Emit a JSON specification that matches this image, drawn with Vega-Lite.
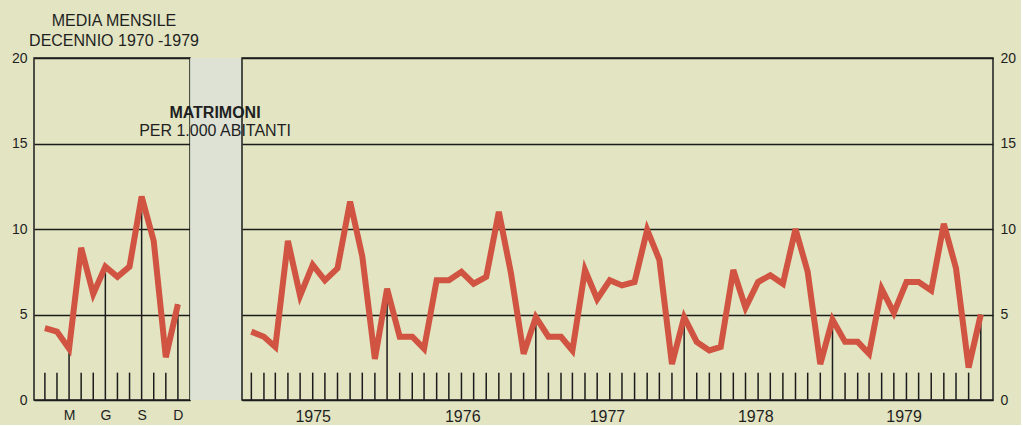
{
  "$schema": "https://vega.github.io/schema/vega-lite/v6.json",
  "background": "#e2e4c2",
  "padding": {"left": 10, "right": 4, "top": 13, "bottom": 0},
  "bounds": "flush",
  "spacing": 52,
  "title": {
    "text": ["MEDIA MENSILE", "DECENNIO 1970 -1979"],
    "anchor": "start",
    "align": "center",
    "frame": "group",
    "dx": 80,
    "offset": 1,
    "fontSize": 16,
    "fontWeight": "normal",
    "lineHeight": 20,
    "font": "Liberation Sans",
    "color": "#1f1f1f"
  },
  "config": {
    "font": "Liberation Sans",
    "view": {"stroke": "#1c1c1c", "strokeWidth": 1.5},
    "axisY": {
      "grid": true,
      "gridColor": "#1c1c1c",
      "gridWidth": 1.5,
      "gridOpacity": 1,
      "domain": false,
      "ticks": false,
      "labelFontSize": 14,
      "labelColor": "#1f1f1f",
      "labelPadding": 7,
      "title": null
    },
    "axisX": {
      "grid": false,
      "domain": false,
      "ticks": false,
      "labelColor": "#1f1f1f",
      "labelPadding": 8,
      "title": null
    }
  },
  "datasets": {
    "media": [
      {"mese": 1, "valore": 4.2},
      {"mese": 2, "valore": 4.0},
      {"mese": 3, "valore": 3.0},
      {"mese": 4, "valore": 8.9},
      {"mese": 5, "valore": 6.2},
      {"mese": 6, "valore": 7.8},
      {"mese": 7, "valore": 7.2},
      {"mese": 8, "valore": 7.8},
      {"mese": 9, "valore": 11.9},
      {"mese": 10, "valore": 9.3},
      {"mese": 11, "valore": 2.5},
      {"mese": 12, "valore": 5.6}
    ],
    "serie": [
      {"data": "1975/01/01", "valore": 4.0},
      {"data": "1975/02/01", "valore": 3.7},
      {"data": "1975/03/01", "valore": 3.1},
      {"data": "1975/04/01", "valore": 9.3},
      {"data": "1975/05/01", "valore": 6.1},
      {"data": "1975/06/01", "valore": 7.9},
      {"data": "1975/07/01", "valore": 7.0},
      {"data": "1975/08/01", "valore": 7.7},
      {"data": "1975/09/01", "valore": 11.6},
      {"data": "1975/10/01", "valore": 8.4},
      {"data": "1975/11/01", "valore": 2.4},
      {"data": "1975/12/01", "valore": 6.5},
      {"data": "1976/01/01", "valore": 3.7},
      {"data": "1976/02/01", "valore": 3.7},
      {"data": "1976/03/01", "valore": 3.0},
      {"data": "1976/04/01", "valore": 7.0},
      {"data": "1976/05/01", "valore": 7.0},
      {"data": "1976/06/01", "valore": 7.5},
      {"data": "1976/07/01", "valore": 6.8},
      {"data": "1976/08/01", "valore": 7.2},
      {"data": "1976/09/01", "valore": 11.0},
      {"data": "1976/10/01", "valore": 7.4},
      {"data": "1976/11/01", "valore": 2.7},
      {"data": "1976/12/01", "valore": 4.85},
      {"data": "1977/01/01", "valore": 3.7},
      {"data": "1977/02/01", "valore": 3.7},
      {"data": "1977/03/01", "valore": 2.9},
      {"data": "1977/04/01", "valore": 7.6},
      {"data": "1977/05/01", "valore": 5.9},
      {"data": "1977/06/01", "valore": 7.0},
      {"data": "1977/07/01", "valore": 6.7},
      {"data": "1977/08/01", "valore": 6.9},
      {"data": "1977/09/01", "valore": 9.95},
      {"data": "1977/10/01", "valore": 8.2},
      {"data": "1977/11/01", "valore": 2.1},
      {"data": "1977/12/01", "valore": 4.85},
      {"data": "1978/01/01", "valore": 3.4},
      {"data": "1978/02/01", "valore": 2.9},
      {"data": "1978/03/01", "valore": 3.1},
      {"data": "1978/04/01", "valore": 7.6},
      {"data": "1978/05/01", "valore": 5.4},
      {"data": "1978/06/01", "valore": 6.9},
      {"data": "1978/07/01", "valore": 7.3},
      {"data": "1978/08/01", "valore": 6.8},
      {"data": "1978/09/01", "valore": 10.0},
      {"data": "1978/10/01", "valore": 7.5},
      {"data": "1978/11/01", "valore": 2.1},
      {"data": "1978/12/01", "valore": 4.7},
      {"data": "1979/01/01", "valore": 3.4},
      {"data": "1979/02/01", "valore": 3.4},
      {"data": "1979/03/01", "valore": 2.7},
      {"data": "1979/04/01", "valore": 6.5},
      {"data": "1979/05/01", "valore": 5.1},
      {"data": "1979/06/01", "valore": 6.9},
      {"data": "1979/07/01", "valore": 6.9},
      {"data": "1979/08/01", "valore": 6.4},
      {"data": "1979/09/01", "valore": 10.3},
      {"data": "1979/10/01", "valore": 7.7},
      {"data": "1979/11/01", "valore": 1.9},
      {"data": "1979/12/01", "valore": 5.0}
    ]
  },
  "hconcat": [
    {
      "width": 156,
      "height": 342,
      "data": {"name": "media"},
      "encoding": {
        "x": {
          "field": "mese",
          "type": "quantitative",
          "scale": {"domain": [0.1, 13], "nice": false, "zero": false},
          "axis": {
            "values": [3, 6, 9, 12],
            "labelExpr": "datum.value == 3 ? 'M' : datum.value == 6 ? 'G' : datum.value == 9 ? 'S' : 'D'",
            "labelFontSize": 14
          }
        },
        "y": {
          "field": "valore",
          "type": "quantitative",
          "scale": {"domain": [0, 20], "nice": false},
          "axis": {"values": [0, 5, 10, 15, 20]}
        }
      },
      "layer": [
        {
          "mark": {"type": "rect", "color": "#dde2d4", "clip": false},
          "encoding": {
            "x": {"datum": 13.07},
            "x2": {"datum": 17.23},
            "y": {"datum": 0},
            "y2": {"datum": 20}
          }
        },
        {
          "transform": [{"filter": "datum.mese % 3 != 0"}],
          "mark": {"type": "rule", "color": "#1c1c1c", "strokeWidth": 1.5},
          "encoding": {"y": {"datum": 0}, "y2": {"datum": 1.6}}
        },
        {
          "transform": [{"filter": "datum.mese % 3 == 0"}],
          "mark": {"type": "rule", "color": "#1c1c1c", "strokeWidth": 1.5},
          "encoding": {"y": {"datum": 0}, "y2": {"field": "valore"}}
        },
        {
          "mark": {"type": "line", "color": "#d05441", "strokeWidth": 6, "strokeJoin": "miter", "strokeMiterLimit": 4}
        }
      ]
    },
    {
      "width": 751,
      "height": 342,
      "data": {"name": "serie"},
      "title": {
        "text": "MATRIMONI",
        "subtitle": "PER 1.000 ABITANTI",
        "anchor": "start",
        "frame": "group",
        "align": "center",
        "dx": -27,
        "offset": -88,
        "fontSize": 16,
        "fontWeight": "bold",
        "subtitleFontSize": 16,
        "subtitleFontWeight": "normal",
        "subtitlePadding": 2,
        "font": "Liberation Sans",
        "subtitleFont": "Liberation Sans",
        "color": "#1f1f1f",
        "subtitleColor": "#1f1f1f"
      },
      "encoding": {
        "x": {
          "field": "data",
          "type": "temporal",
          "scale": {"domain": [{"year": 1974, "month": 12, "date": 9}, {"year": 1979, "month": 12, "date": 31}], "nice": false},
          "axis": {
            "values": [
              {"year": 1975, "month": 6, "date": 1},
              {"year": 1976, "month": 6, "date": 3},
              {"year": 1977, "month": 5, "date": 25},
              {"year": 1978, "month": 5, "date": 25},
              {"year": 1979, "month": 5, "date": 25}
            ],
            "format": "%Y",
            "labelFontSize": 16
          }
        },
        "y": {
          "field": "valore",
          "type": "quantitative",
          "scale": {"domain": [0, 20], "nice": false},
          "axis": {"orient": "right", "values": [0, 5, 10, 15, 20]}
        }
      },
      "layer": [
        {
          "transform": [{"filter": "month(datum.data) != 11"}],
          "mark": {"type": "rule", "color": "#1c1c1c", "strokeWidth": 1.5},
          "encoding": {"y": {"datum": 0}, "y2": {"datum": 1.6}}
        },
        {
          "transform": [{"filter": "month(datum.data) == 11"}],
          "mark": {"type": "rule", "color": "#1c1c1c", "strokeWidth": 1.5},
          "encoding": {"y": {"datum": 0}, "y2": {"field": "valore"}}
        },
        {
          "mark": {"type": "line", "color": "#d05441", "strokeWidth": 6, "strokeJoin": "miter", "strokeMiterLimit": 4}
        }
      ]
    }
  ]
}
